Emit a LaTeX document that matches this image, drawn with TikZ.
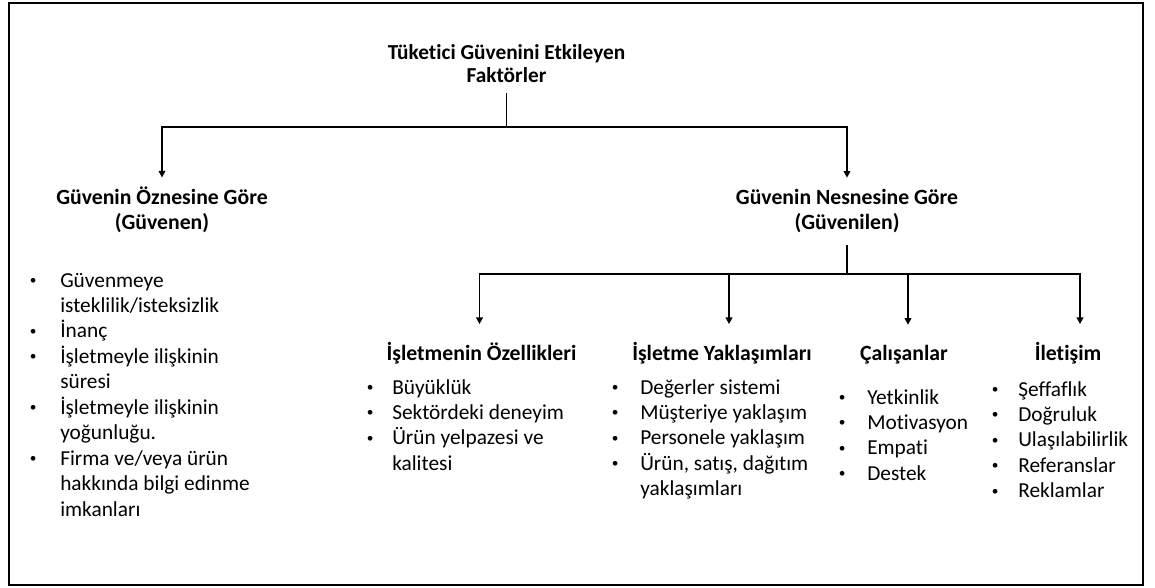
\documentclass[tikz,border=0pt]{standalone}
\usepackage{fontspec}
\setmainfont{Carlito}[Ligatures={NoCommon}]
\usetikzlibrary{arrows.meta}

% distance from the centre of a bullet to the text it introduces
\newlength\bgap
\setlength\bgap{18pt}
\newcommand\blt{\llap{\makebox[0pt]{\raisebox{1.9pt}{\fontsize{10}{10}\selectfont\textbullet}}\hspace{\bgap}}}
% stacked lines, first baseline on top
\newcommand\rows[1]{\begin{tabular}[t]{@{}l@{}}#1\end{tabular}}
\newcommand\crows[1]{\begin{tabular}[t]{@{}c@{}}#1\end{tabular}}

\tikzset{
  frame/.style={draw, line width=2pt},
  conn/.style={line width=1.2pt},
  arr/.style={conn, -{Triangle[width=5pt,length=5pt]}},
  titlebox/.style={anchor=base, inner xsep=0pt, inner ysep=3pt,
    font=\bfseries\fontsize{16}{17.25}\selectfont},
  headA/.style={anchor=base, inner xsep=0pt, inner ysep=6.4pt,
    font=\bfseries\fontsize{16.3}{18.75}\selectfont},
  headB/.style={anchor=base, inner xsep=0pt, inner ysep=13.1pt,
    font=\bfseries\fontsize{16.3}{18.75}\selectfont},
  listbox/.style={anchor=base west, inner sep=0pt,
    font={\fontsize{16}{19.1}\selectfont\setlength\bgap{#1}}},
  listbox/.default=18pt,
}

\begin{document}
\begin{tikzpicture}[x=0.75pt, y=-0.75pt]
  \useasboundingbox (0,0) rectangle (1155,587);
  \draw[frame] (9,3) rectangle (1143,585);

  % headings
  \node[titlebox] (t) at (506.5,59) {\crows{Tüketici Güvenini Etkileyen\\Faktörler}};
  \node[headA] (s) at (162,204) {\crows{Güvenin Öznesine Göre\\(Güvenen)}};
  \node[headA] (o) at (847,204) {\crows{Güvenin Nesnesine Göre\\(Güvenilen)}};
  \node[headB] (h1) at (481.5,360) {\crows{İşletmenin Özellikleri}};
  \node[headB] (h2) at (722,360) {\crows{İşletme Yaklaşımları}};
  \node[headB] (h3) at (904,360) {\crows{Çalışanlar}};
  \node[headB] (h4) at (1068,360) {\crows{İletişim}};

  % bullet lists
  \node[listbox=20.25pt] (l0) at (60,287) {\rows{\blt Güvenmeye\\isteklilik/isteksizlik\\
    \blt İnanç\\\blt İşletmeyle ilişkinin\\süresi\\\blt İşletmeyle ilişkinin\\
    yoğunluğu.\\\blt Firma ve/veya ürün\\hakkında bilgi edinme\\imkanları}};
  \node[listbox=16.5pt] (l1) at (392,394) {\rows{\blt Büyüklük\\\blt Sektördeki deneyim\\
    \blt Ürün yelpazesi ve\\kalitesi}};
  \node[listbox=18.75pt] (l2) at (640,394) {\rows{\blt Değerler sistemi\\\blt Müşteriye yaklaşım\\
    \blt Personele yaklaşım\\\blt Ürün, satış, dağıtım\\yaklaşımları}};
  \node[listbox=18.75pt] (l3) at (867,404) {\rows{\blt Yetkinlik\\\blt Motivasyon\\
    \blt Empati\\\blt Destek}};
  \node[listbox=17.25pt] (l4) at (1018,396) {\rows{\blt Şeffaflık\\\blt Doğruluk\\
    \blt Ulaşılabilirlik\\\blt Referanslar\\\blt Reklamlar}};

  % connectors
  \coordinate (j1) at (506.5,127);
  \coordinate (j2) at (847,274);
  \draw[conn] (t.south) -- (j1);
  \draw[arr] (j1) -| (s.north);
  \draw[arr] (j1) -| (o.north);
  \draw[conn] (o.south) -- (j2);
  \draw[arr] (j2) -| ([xshift=-1.5pt]h1.north);
  \draw[arr] (j2) -| ([xshift=5.25pt]h2.north);
  \draw[arr] (j2) -| ([xshift=3pt]h3.north);
  \draw[arr] (j2) -| ([xshift=9pt]h4.north);
\end{tikzpicture}
\end{document}
